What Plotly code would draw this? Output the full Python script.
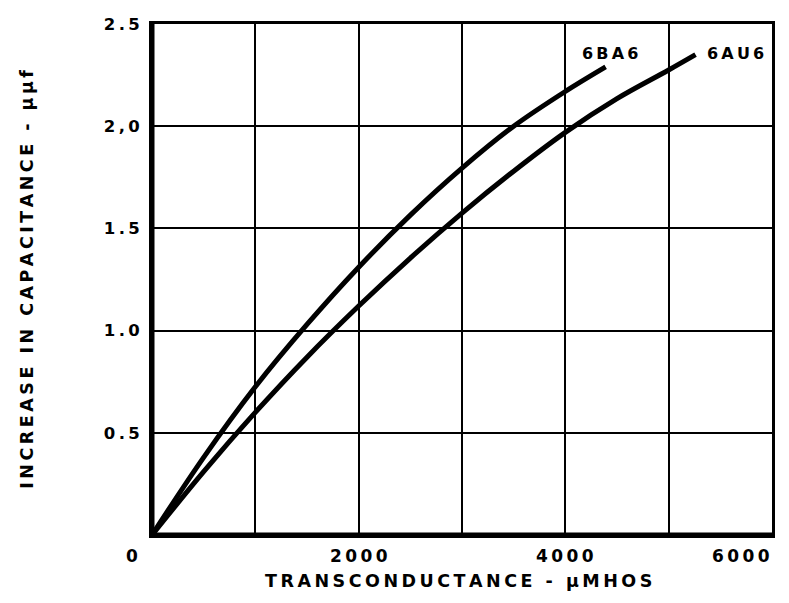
import plotly.graph_objects as go

# ---- data ----
gm_6ba6 = [0, 500, 1000, 1500, 2000, 2500, 3000, 3500, 4000, 4390]
cap_6ba6 = [0, 0.38, 0.725, 1.03, 1.31, 1.565, 1.795, 2.0, 2.17, 2.29]

gm_6au6 = [0, 500, 1000, 1500, 2000, 2500, 3000, 3500, 4000, 4500, 5000, 5260]
cap_6au6 = [0, 0.31, 0.60, 0.87, 1.12, 1.355, 1.575, 1.78, 1.97, 2.135, 2.275, 2.35]

curve_names = ["6BA6", "6AU6"]
label_x = [4430, 5650]
label_y = [2.355, 2.355]

x_tick_vals = [0, 2000, 4000, 6000]
x_tick_text = ["0", "2000", "4000", "6000"]
y_tick_vals = [0.5, 1.0, 1.5, 2.0, 2.5]
y_tick_text = ["0.5", "1.0", "1.5", "2,0", "2.5"]

x_title = "TRANSCONDUCTANCE - μMHOS"
y_title = "INCREASE IN CAPACITANCE - μμf"

FONT = "DejaVu Sans"
TS = "\u2009"


def spaced(s):
    return TS.join(s)


fig = go.Figure()
for xs, ys in [(gm_6ba6, cap_6ba6), (gm_6au6, cap_6au6)]:
    fig.add_trace(go.Scatter(
        x=xs, y=ys, mode="lines",
        line=dict(color="black", width=5, shape="spline", smoothing=1.0),
        showlegend=False, hoverinfo="skip",
    ))

ann = []
for name, lx, ly in zip(curve_names, label_x, label_y):
    ann.append(dict(x=lx, y=ly, xref="x", yref="y", text=spaced(name),
                    showarrow=False, font=dict(family=FONT, size=16, color="black", weight=700)))

shifts = {0: (-20, "center"), 6000: (0, "right")}
for v, t in zip(x_tick_vals, x_tick_text):
    xs_, anchor = shifts.get(v, (0, "center"))
    ann.append(dict(x=v, y=0, xref="x", yref="y", text=spaced(t), showarrow=False,
                    xanchor=anchor, yanchor="middle", xshift=xs_, yshift=-21,
                    font=dict(family=FONT, size=17, color="black", weight=700)))

ann.append(dict(x=0.494, y=-0.09, xref="paper", yref="paper", text=spaced(x_title),
                showarrow=False, xanchor="center", yanchor="middle",
                font=dict(family=FONT, size=17.5, color="black", weight=700)))
ann.append(dict(x=-0.203, y=0.5, xref="paper", yref="paper", text=spaced(y_title),
                showarrow=False, textangle=-90, xanchor="center", yanchor="middle",
                font=dict(family=FONT, size=17.5, color="black", weight=700)))

fig.update_layout(
    width=781, height=595,
    margin=dict(l=144, r=17, t=7, b=68),
    paper_bgcolor="white", plot_bgcolor="white",
    annotations=ann,
    xaxis=dict(range=[0, 6000], dtick=1000, tick0=0, showticklabels=False,
               showgrid=True, gridcolor="black", gridwidth=2,
               showline=True, mirror=True, linecolor="black", linewidth=3,
               zeroline=False, ticks=""),
    yaxis=dict(range=[0, 2.5], tickvals=y_tick_vals, ticktext=[spaced(t) for t in y_tick_text],
               showgrid=True, gridcolor="black", gridwidth=2,
               showline=True, mirror=True, linecolor="black", linewidth=3,
               zeroline=False, ticks="outside", ticklen=6, tickcolor="rgba(0,0,0,0)",
               ticklabeloverflow="allow",
               tickfont=dict(family=FONT, size=16.5, color="black", weight=700)),
    shapes=[
        dict(type="line", xref="paper", yref="paper", x0=0, x1=0, y0=0, y1=1,
             line=dict(color="black", width=5)),
        dict(type="line", xref="paper", yref="paper", x0=0, x1=1, y0=0, y1=0,
             line=dict(color="black", width=5)),
    ],
)

fig.write_html("out.html")
